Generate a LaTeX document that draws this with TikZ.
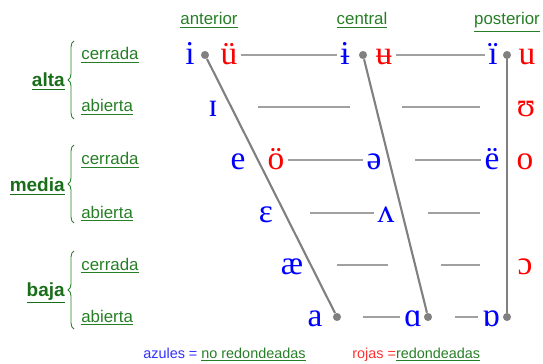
\documentclass[tikz,border=0pt]{standalone}
\usepackage{fontspec}
\setmainfont{Liberation Sans}
\newfontfamily\ipafont{Liberation Serif}
\usepackage{tikz}
\usetikzlibrary{decorations.pathreplacing}
\definecolor{grn}{HTML}{267F26}
\definecolor{grnD}{HTML}{1A6E1A}
\definecolor{blu}{HTML}{0000FF}
\definecolor{bluK}{HTML}{3030FF}
\definecolor{rred}{HTML}{FF0000}
\definecolor{redK}{HTML}{FF3030}
\definecolor{gry}{HTML}{808080}
\definecolor{gryL}{HTML}{A0A0A0}
\tikzset{
  vw/.style     ={font=\ipafont\fontsize{19}{19}\selectfont, inner xsep=2pt, inner ysep=0pt,
                  text height=11pt, text depth=0pt},
  nr/.style     ={vw, text=blu},
  rd/.style     ={vw, text=rred},
  colhead/.style={anchor=base, font=\fontsize{9.6}{10}\selectfont, text=grn, inner sep=0pt},
  subrow/.style ={colhead, anchor=base west},
  hgt/.style    ={anchor=base east, font=\fontsize{10.8}{11}\selectfont\bfseries, text=grnD, inner sep=0pt},
  keytxt/.style ={anchor=base west, font=\fontsize{8.2}{9}\selectfont, inner sep=0pt},
  dot/.style    ={circle, fill=gry, inner sep=0pt, minimum size=4.6pt},
  guide/.style  ={draw=gryL, line width=.6pt},
  slope/.style  ={draw=gry, line width=1.2pt},
  brc/.style    ={draw=grn, line width=.5pt, decorate, decoration={brace, amplitude=3.4pt}},
}
\begin{document}
\begin{tikzpicture}[x=0.02cm, y=-0.02cm]
  \useasboundingbox (0,0) rectangle (543,364);
  % column heads
  \node[colhead] (hant) at (209,25) {\underline{anterior}};
  \node[colhead] (hcen) at (362,25) {\underline{central}};
  \node[colhead] (hpos) at (507,25) {\underline{posterior}};
  % heights
  \node[hgt] (alta) at (65,87) {\underline{alta}};
  \node[hgt] (media) at (65,192) {\underline{media}};
  \node[hgt] (baja) at (65,296) {\underline{baja}};
  \foreach \y/\t [count=\k] in {55/cerrada,107/abierta,160/cerrada,213/abierta,265/cerrada,317/abierta}
    \node[subrow] (s\k) at (81,\y+5) {\underline{\t}};
  \draw[brc] (74,119) -- (74,41);
  \draw[brc] (74,223) -- (74,145);
  \draw[brc] (74,329) -- (74,251);
  % vowels, row by row
  \node[nr] (i) at (190,55) {i};
  \node[dot] (dA1) at (205,55) {};
  \node[rd] (ue) at (229,55) {ü};
  \node[nr] (ibar) at (345,55) {ɨ};
  \node[dot] (dB1) at (363,55) {};
  \node[rd] (ubar) at (384,55) {ʉ};
  \node[nr] (idd) at (493,55) {ï};
  \node[dot] (dC1) at (507,55) {};
  \node[rd] (u) at (527,55) {u};
  \node[nr] (smi) at (213,107) {ɪ};
  \node[rd] (ups) at (526,107) {ʊ};
  \node[nr] (e) at (238,160) {e};
  \node[rd] (oe) at (276,160) {ö};
  \node[nr] (schwa) at (374,160) {ə};
  \node[nr] (edd) at (492,160) {ë};
  \node[rd] (o) at (525,160) {o};
  \node[nr] (eps) at (266,213) {ɛ};
  \node[nr] (turnv) at (386,213) {ʌ};
  \node[nr] (ae) at (292,265) {æ};
  \node[rd] (openo) at (525,265) {ɔ};
  \node[nr] (a) at (315,317) {a};
  \node[dot] (dA2) at (337,317) {};
  \node[nr] (alpha) at (413,317) {ɑ};
  \node[dot] (dB2) at (428,317) {};
  \node[nr] (turnalpha) at (491,317) {ɒ};
  \node[dot] (dC2) at (507,317) {};
  % guide lines
  \foreach \a/\b/\y [count=\k] in {258/350/107,402/480/107,428/480/213,337/388/265,441/480/265}{
    \coordinate (g\k a) at (\a,\y);
    \coordinate (g\k b) at (\b,\y);
    \draw[guide] (g\k a) -- (g\k b);
  }
  \coordinate (gE) at (415,160);
  \coordinate (gV) at (310,213);
  \coordinate (gA) at (363,317);
  \coordinate (gB) at (455,317);
  \draw[guide] (ue) -- (ibar);
  \draw[guide] (ubar) -- (idd);
  \draw[guide] (oe) -- (schwa);
  \draw[guide] (gE) -- (edd);
  \draw[guide] (gV) -- (turnv);
  \draw[guide] (gA) -- (alpha);
  \draw[guide] (gB) -- (turnalpha);
  % slopes
  \draw[slope] (dA1) -- (dA2);
  \draw[slope] (dB1) -- (dB2);
  \draw[slope] (dC1) -- (dC2);
  % key
  \node[keytxt] (kblu) at (143,358) {\color{bluK}azules = \color{grn}\underline{no redondeadas}};
  \node[keytxt] (kred) at (352,358) {\color{redK}rojas =\color{grn}\underline{redondeadas}};
\end{tikzpicture}
\end{document}
